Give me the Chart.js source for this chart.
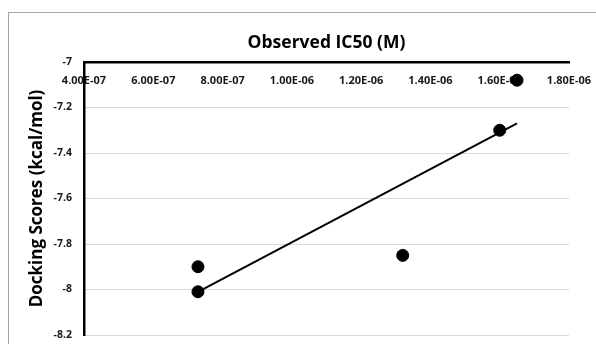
<!DOCTYPE html>
<html><head><meta charset="utf-8">
<script src="https://cdn.jsdelivr.net/npm/chart.js@4/dist/chart.umd.min.js"></script>
<style>
html,body{margin:0;padding:0;background:#fff;overflow:hidden;}
#wrap{position:relative;width:596px;height:344px;overflow:hidden;}
#frame{position:absolute;left:8px;top:12px;width:700px;height:500px;border:1px solid #a6a6a6;}
canvas{position:absolute;left:0;top:0;}
</style></head><body>
<div id="wrap"><div id="frame"></div><canvas id="c" width="596" height="344"></canvas></div>
<script>
const observedIC50 = [7.29e-7, 7.29e-7, 1.32e-6, 1.60e-6, 1.65e-6];
const dockingScores = [-7.90, -8.01, -7.85, -7.30, -7.08];
const trendX = [7.29e-7, 1.65e-6];
const trendY = [-8.01, -7.27];
const xTickValues = [4e-7, 6e-7, 8e-7, 1.0e-6, 1.2e-6, 1.4e-6, 1.6e-6, 1.8e-6];
const xTickLabels = ['4.00E-07','6.00E-07','8.00E-07','1.00E-06','1.20E-06','1.40E-06','1.60E-06','1.80E-06'];
const yTickValues = [-8.2, -8.0, -7.8, -7.6, -7.4, -7.2, -7.0];
const yTickLabels = ['-8.2','-8','-7.8','-7.6','-7.4','-7.2','-7'];

const FONT = '"Open Sans", "Noto Sans", sans-serif';
const scatterPts = observedIC50.map((x, i) => ({x: x, y: dockingScores[i]}));
const trendPts = trendX.map((x, i) => ({x: x, y: trendY[i]}));

new Chart(document.getElementById('c'), {
  type: 'scatter',
  data: {
    datasets: [
      {
        label: 'Trend',
        type: 'line',
        data: trendPts,
        borderColor: '#000',
        borderWidth: 2,
        pointRadius: 0,
        fill: false,
        tension: 0
      },
      {
        label: 'Docking Scores',
        data: scatterPts,
        backgroundColor: '#000',
        borderColor: '#000',
        pointRadius: 6,
        pointHoverRadius: 6
      }
    ]
  },
  options: {
    responsive: false,
    animation: false,
    devicePixelRatio: 1,
    layout: { padding: { left: 10, right: 27, top: 0, bottom: 9 } },
    plugins: {
      legend: { display: false },
      tooltip: { enabled: false },
      title: {
        display: true,
        text: 'Observed IC50 (M)',
        fullSize: false,
        color: '#000',
        font: { family: FONT, size: 17.5, weight: 'bold' },
        padding: { top: 33, bottom: 8 }
      }
    },
    scales: {
      x: {
        type: 'linear',
        position: { y: -7 },
        min: 4e-7,
        max: 1.8e-6,
        afterBuildTicks: s => { s.ticks = xTickValues.map(v => ({ value: v })); },
        afterFit: s => { s.height = 0; s.paddingLeft = 0; s.paddingRight = 0; s.paddingTop = 0; s.paddingBottom = 0; },
        ticks: {
          autoSkip: false,
          maxRotation: 0,
          padding: 12,
          color: '#1a1a1a',
          font: { family: FONT, size: 11, weight: 'bold' },
          callback: (v, i) => xTickLabels[i]
        },
        grid: { display: false, drawTicks: false },
        border: { display: true, color: '#000', width: 2.5 }
      },
      y: {
        type: 'linear',
        position: 'left',
        min: -8.2,
        max: -7,
        afterBuildTicks: s => { s.ticks = yTickValues.map(v => ({ value: v })); },
        afterFit: s => { s.width = 74; s.paddingTop = 0; s.paddingBottom = 0; },
        ticks: {
          autoSkip: false,
          padding: 12,
          color: '#1a1a1a',
          font: { family: FONT, size: 10.5, weight: 'bold' },
          callback: (v, i) => yTickLabels[i]
        },
        grid: { color: '#d9d9d9', lineWidth: 1, drawTicks: false },
        border: { display: true, color: '#000', width: 2.5 },
        title: {
          display: true,
          text: 'Docking Scores (kcal/mol)',
          color: '#000',
          font: { family: FONT, size: 17, weight: 'bold' },
          padding: { top: 17, bottom: 4 }
        }
      }
    }
  }
});
</script>
</body></html>
